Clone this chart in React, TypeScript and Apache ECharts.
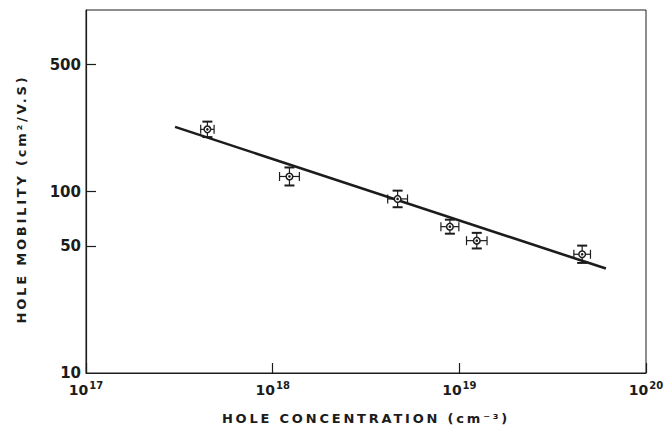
import React, { useEffect, useRef } from 'react';
import * as echarts from 'echarts';

// Data
const concentration = [4.47e17, 1.23e18, 4.67e18, 8.9e18, 1.24e19, 4.55e19];
const mobility = [220, 121, 91, 64, 53.6, 45.1];
const concErrPct = [8.6, 13, 13, 11.7, 13.5, 10.8];
const mobErrPct = [10.3, 12.1, 11.1, 9.3, 10.4, 11.6];
const fitConcentration = [3.0e17, 6.1e19];
const fitMobility = [227, 37.6];
const yLabelValues = [10, 50, 100, 500];
const yTickValues = [50, 100, 500];
const xTitle = 'HOLE CONCENTRATION (cm\u207B\u00B3)';
const yTitle = 'HOLE MOBILITY (cm\u00B2/V.S)';

const FONT = '"DejaVu Sans", "Liberation Sans", Arial, sans-serif';
const INK = '#1c1c1c';

export default function App() {
  const ref = useRef<HTMLDivElement>(null);

  useEffect(() => {
    if (!ref.current) return;
    const chart = echarts.init(ref.current, null, { renderer: 'svg' });

    const points = concentration.map((x, i) => [x, mobility[i], concErrPct[i], mobErrPct[i]]);
    const fit = fitConcentration.map((x, i) => [x, fitMobility[i]]);

    const option: any = {
      animation: false,
      backgroundColor: '#ffffff',
      grid: {
        left: 86,
        right: 21,
        top: 10,
        bottom: 56,
        show: true,
        borderColor: INK,
        borderWidth: 1,
        containLabel: false,
        outerBoundsMode: 'none',
      },
      xAxis: {
        type: 'log',
        logBase: 10,
        min: 1e17,
        max: 1e20,
        axisLine: { show: true, lineStyle: { color: INK, width: 1.2 } },
        axisTick: { show: true, inside: true, length: 10, lineStyle: { color: INK, width: 1.2 } },
        splitLine: { show: false },
        minorTick: { show: false },
        axisLabel: {
          margin: 7,
          color: INK,
          formatter: (v: number) => `{b|10}{s|${Math.round(Math.log10(v))}}`,
          rich: {
            b: { fontFamily: FONT, fontWeight: 'bold', fontSize: 14, color: INK },
            s: { fontFamily: FONT, fontWeight: 'bold', fontSize: 10, color: INK, padding: [0, 0, 9, 1] },
          },
        },
      },
      yAxis: {
        type: 'log',
        logBase: 10,
        min: 10,
        max: 1000,
        axisLine: { show: true, lineStyle: { color: INK, width: 1.2 } },
        axisTick: { show: true, inside: true, length: 10, customValues: yTickValues, lineStyle: { color: INK, width: 1.2 } },
        splitLine: { show: false },
        minorTick: { show: false },
        axisLabel: {
          customValues: yLabelValues,
          margin: 5,
          color: INK,
          fontFamily: FONT,
          fontWeight: 'bold',
          fontSize: 15,
          formatter: (v: number) => String(Math.round(v)),
        },
      },
      graphic: [
        {
          type: 'text',
          x: 366,
          y: 418,
          style: {
            text: xTitle,
            fill: INK,
            font: `bold 13px ${FONT}`,
            align: 'center',
            verticalAlign: 'middle',
          },
        },
        {
          type: 'text',
          x: 21,
          y: 199,
          rotation: Math.PI / 2,
          style: {
            text: yTitle,
            fill: INK,
            font: `bold 13px ${FONT}`,
            align: 'center',
            verticalAlign: 'middle',
          },
        },
      ],
      series: [
        {
          type: 'line',
          data: fit,
          symbol: 'none',
          lineStyle: { color: INK, width: 2.6 },
          z: 2,
        },
        {
          type: 'custom',
          data: points,
          encode: { x: 0, y: 1 },
          z: 3,
          renderItem: (params: any, api: any) => {
            const x = api.value(0);
            const y = api.value(1);
            const fx = 1 + api.value(2) / 100;
            const fy = 1 + api.value(3) / 100;
            const c = api.coord([x, y]);
            const l = api.coord([x / fx, y]);
            const r = api.coord([x * fx, y]);
            const t = api.coord([x, y * fy]);
            const b = api.coord([x, y / fy]);
            const thin = { stroke: INK, lineWidth: 1.2 };
            const thick = { stroke: INK, lineWidth: 2 };
            const capH = 4.5;
            const capW = 5;
            return {
              type: 'group',
              children: [
                { type: 'line', shape: { x1: l[0], y1: c[1], x2: r[0], y2: c[1] }, style: thin },
                { type: 'line', shape: { x1: l[0], y1: c[1] - capH, x2: l[0], y2: c[1] + capH }, style: thin },
                { type: 'line', shape: { x1: r[0], y1: c[1] - capH, x2: r[0], y2: c[1] + capH }, style: thin },
                { type: 'line', shape: { x1: c[0], y1: t[1], x2: c[0], y2: b[1] }, style: thin },
                { type: 'line', shape: { x1: c[0] - capW, y1: t[1], x2: c[0] + capW, y2: t[1] }, style: thick },
                { type: 'line', shape: { x1: c[0] - capW, y1: b[1], x2: c[0] + capW, y2: b[1] }, style: thick },
                { type: 'circle', shape: { cx: c[0], cy: c[1], r: 3.3 }, style: { fill: '#ffffff', stroke: INK, lineWidth: 1.5 } },
                { type: 'circle', shape: { cx: c[0], cy: c[1], r: 1.3 }, style: { fill: INK } },
              ],
            };
          },
        },
      ],
    };

    chart.setOption(option);

    const spaceTitles = () => {
      ref.current?.querySelectorAll('text').forEach((el) => {
        if ((el.textContent || '').startsWith('HOLE')) {
          (el as SVGTextElement).style.letterSpacing = '2.8px';
        }
      });
    };
    spaceTitles();
    chart.on('finished', spaceTitles);

    return () => {
      chart.dispose();
    };
  }, []);

  return (
    <div
      ref={ref}
      style={{ position: 'fixed', left: 0, top: 0, width: 667, height: 429, background: '#fff' }}
    />
  );
}
